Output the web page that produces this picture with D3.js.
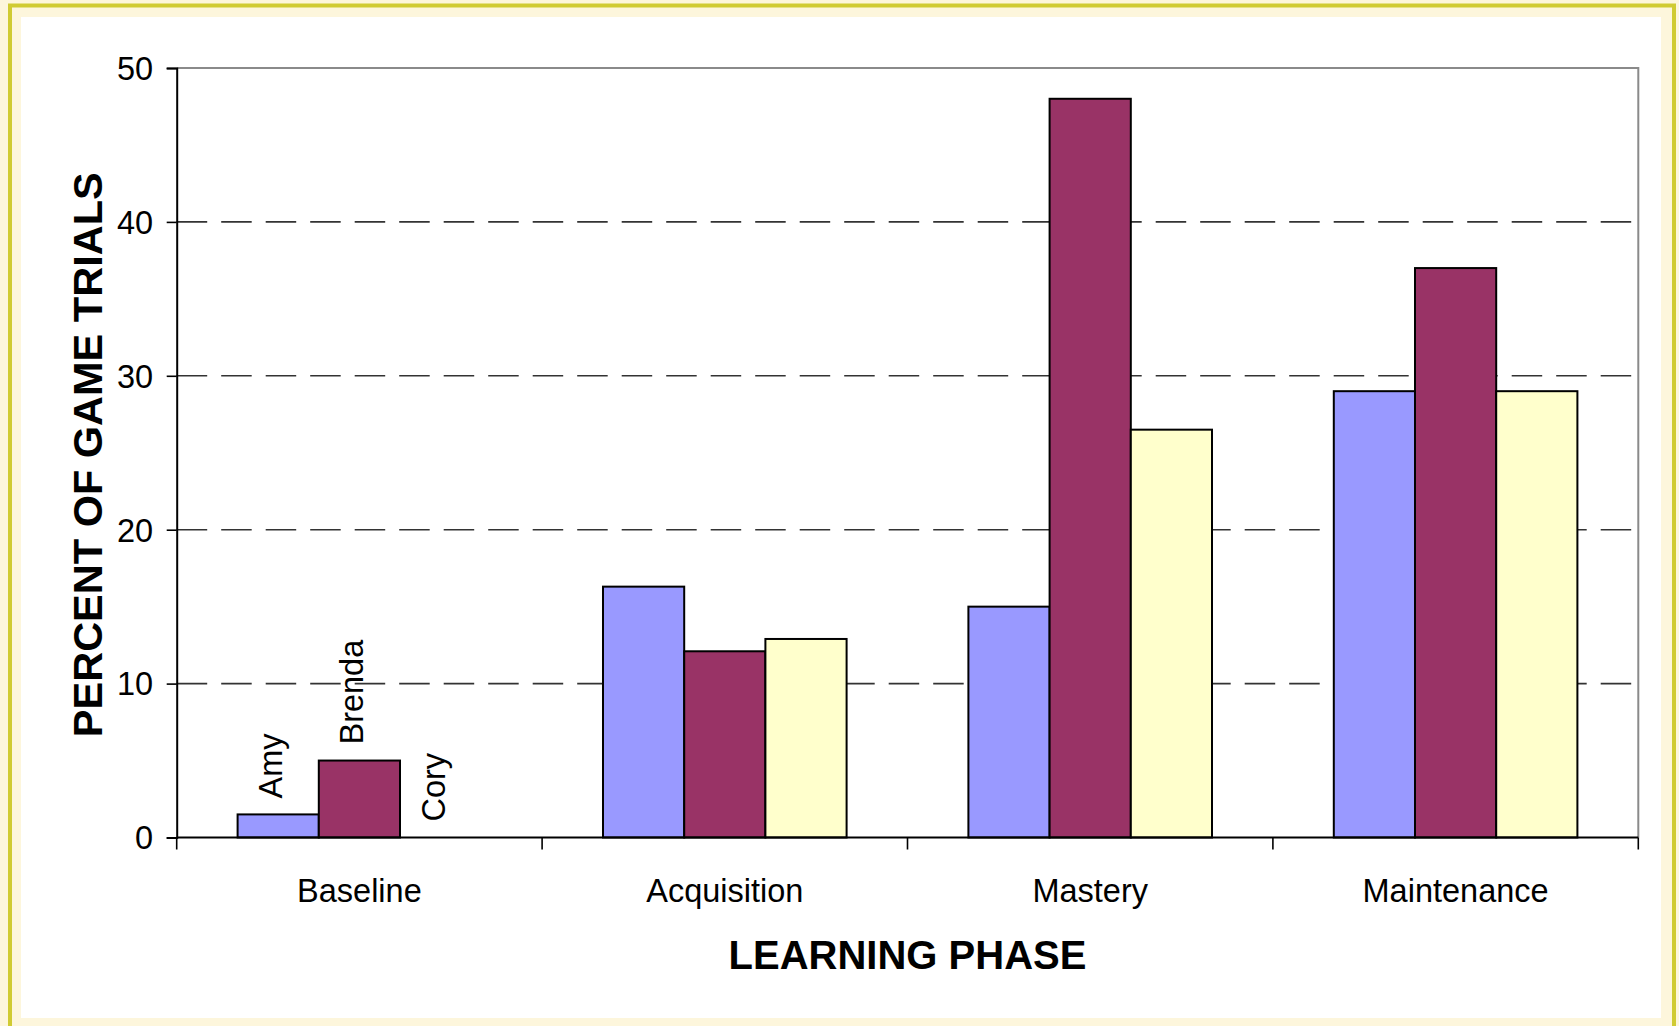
<!DOCTYPE html>
<html>
<head>
<meta charset="utf-8">
<script src="https://cdn.jsdelivr.net/npm/d3@7"></script>
<style>
  html, body { margin: 0; padding: 0; background: #FDF6DC; }
  svg { display: block; }
  text { font-family: "Liberation Sans", Arial, Helvetica, sans-serif; fill: #000; }
</style>
</head>
<body>
<svg id="chart" width="1679" height="1026"></svg>
<script>
// ---- data ----
const categories = ["Baseline", "Acquisition", "Mastery", "Maintenance"];
const seriesNames = ["Amy", "Brenda", "Cory"];
const amyValues = [1.5, 16.3, 15.0, 29.0];
const brendaValues = [5.0, 12.1, 48.0, 37.0];
const coryValues = [0, 12.9, 26.5, 29.0];
const yTicks = [0, 10, 20, 30, 40, 50];
const gridTicks = [10, 20, 30, 40];
const seriesColors = ["#9999FF", "#993366", "#FFFFCC"];
const xTitle = "LEARNING PHASE";
const yTitle = "PERCENT OF GAME TRIALS";
const labelledCategory = "Baseline";

const seriesValues = [amyValues, brendaValues, coryValues];

// ---- layout ----
const W = 1679, H = 1026;
const plot = { left: 176.7, right: 1638.3, top: 68, bottom: 837.5 };
const FONT = 32.5;

const svg = d3.select("#chart");

// frame
svg.append("rect").attr("x", 0).attr("y", 0).attr("width", W).attr("height", H).attr("fill", "#FDF6DC");
svg.append("rect").attr("x", 10).attr("y", 5.5).attr("width", 1664).attr("height", 1200)
  .attr("fill", "none").attr("stroke", "#D0CB33").attr("stroke-width", 4);
svg.append("rect").attr("x", 21).attr("y", 17).attr("width", 1640).attr("height", 1001).attr("fill", "#FFFFFF");

// scales
const x0 = d3.scaleBand().domain(categories).range([plot.left, plot.right]).paddingInner(0).paddingOuter(0);
const x1 = d3.scaleBand().domain(seriesNames).range([0, x0.bandwidth()]).paddingInner(0).paddingOuter(0.75);
const y = d3.scaleLinear().domain([0, 50]).range([plot.bottom, plot.top]);
const color = d3.scaleOrdinal().domain(seriesNames).range(seriesColors);

// gridlines
svg.append("g").selectAll("line").data(gridTicks).join("line")
  .attr("x1", plot.left).attr("x2", plot.right)
  .attr("y1", d => y(d)).attr("y2", d => y(d))
  .attr("stroke", "#333333").attr("stroke-width", 1.6)
  .attr("stroke-dasharray", "30.5,14");

// plot border top & right (gray)
svg.append("path")
  .attr("d", `M${plot.left},${y(50)}H${plot.right}V${plot.bottom}`)
  .attr("fill", "none").attr("stroke", "#8a8a8a").attr("stroke-width", 2);

// bars
const rows = categories.map((c, i) => ({
  category: c,
  values: seriesNames.map((s, j) => ({ series: s, value: seriesValues[j][i], category: c }))
}));

const groups = svg.append("g").selectAll("g").data(rows).join("g")
  .attr("transform", d => `translate(${x0(d.category)},0)`);

groups.selectAll("rect").data(d => d.values.filter(v => v.value > 0)).join("rect")
  .attr("x", d => x1(d.series))
  .attr("y", d => y(d.value))
  .attr("width", x1.bandwidth())
  .attr("height", d => y(0) - y(d.value))
  .attr("fill", d => color(d.series))
  .attr("stroke", "#000").attr("stroke-width", 2);

// series name labels (rotated) on the labelled category
const labelRow = rows.find(r => r.category === labelledCategory);
svg.append("g").selectAll("text").data(labelRow.values).join("text")
  .attr("transform", d => `translate(${x0(d.category) + x1(d.series) + x1.bandwidth() / 2 + 4},${y(d.value) - 16}) rotate(-90)`)
  .attr("text-anchor", "start")
  .attr("font-size", FONT)
  .text(d => d.series);

// y axis
const yAxis = d3.axisLeft(y).tickValues(yTicks).tickSize(10).tickPadding(13.5).tickFormat(d3.format("d"));
const gy = svg.append("g").attr("transform", `translate(${plot.left},0)`).call(yAxis);
gy.select(".domain").attr("stroke", "#000").attr("stroke-width", 2);
gy.selectAll(".tick line").attr("stroke", "#000").attr("stroke-width", 1.6);
gy.selectAll(".tick text").attr("font-size", FONT).attr("dy", "0.35em")
  .attr("font-family", "'Liberation Sans', Arial, sans-serif");

// x axis line
svg.append("line").attr("x1", plot.left).attr("x2", plot.right)
  .attr("y1", y(0)).attr("y2", y(0))
  .attr("stroke", "#000").attr("stroke-width", 2);

// category boundary ticks
const boundaries = categories.map(c => x0(c)).concat([x0(categories[categories.length - 1]) + x0.bandwidth()]);
svg.append("g").selectAll("line").data(boundaries).join("line")
  .attr("x1", d => d).attr("x2", d => d)
  .attr("y1", y(0)).attr("y2", y(0) + 12)
  .attr("stroke", "#000").attr("stroke-width", 1.6);

// category labels
svg.append("g").selectAll("text").data(categories).join("text")
  .attr("x", d => x0(d) + x0.bandwidth() / 2)
  .attr("y", 902)
  .attr("text-anchor", "middle")
  .attr("font-size", FONT)
  .text(d => d);

// axis titles
svg.append("text")
  .attr("x", (plot.left + plot.right) / 2)
  .attr("y", 969)
  .attr("text-anchor", "middle")
  .attr("font-size", 40).attr("font-weight", "bold")
  .text(xTitle);

svg.append("text")
  .attr("transform", `translate(102,${(plot.top + plot.bottom) / 2 + 2}) rotate(-90)`)
  .attr("text-anchor", "middle")
  .attr("font-size", 41.5).attr("font-weight", "bold")
  .text(yTitle);
</script>
</body>
</html>
